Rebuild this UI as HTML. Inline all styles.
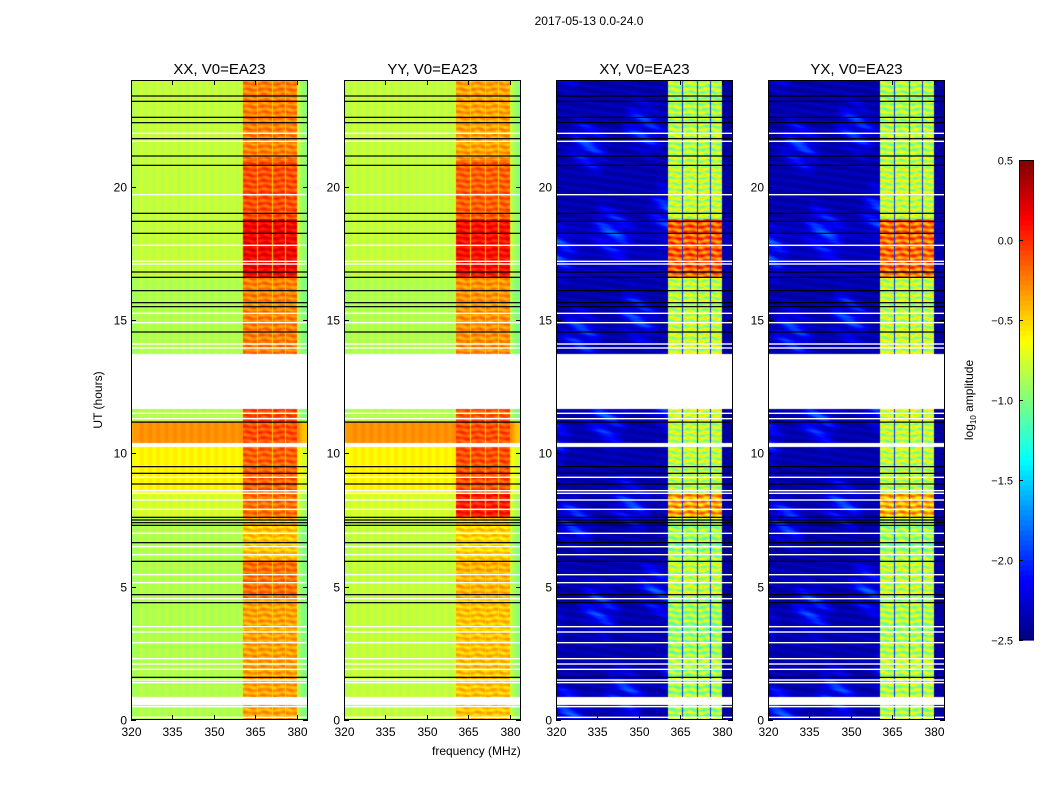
<!DOCTYPE html>
<html><head><meta charset="utf-8">
<style>
body{margin:0;background:#fff;font-family:"Liberation Sans",sans-serif;}
#root{position:relative;width:1050px;height:800px;overflow:hidden;background:#fff;}
.t{position:absolute;white-space:nowrap;color:#000;}
</style></head><body>
<div id="root">
<div class="t" style="left:0;width:1178px;text-align:center;top:14px;font-size:12px;">2017-05-13 0.0-24.0</div>
<div class="t" style="left:432px;top:744px;font-size:12px;">frequency (MHz)</div>
<div class="t" style="left:98px;top:400px;font-size:12px;transform:translate(-50%,-50%) rotate(-90deg);">UT (hours)</div>
<div class="t" style="left:970px;top:400px;font-size:12px;transform:translate(-50%,-50%) rotate(-90deg);">log<sub style="font-size:8px">10</sub> amplitude</div>
<svg id="svg" width="1050" height="800" style="position:absolute;left:0;top:0"></svg>
</div>
<script>
// ---- data (hours / MHz / log10 amplitude) ----
const panelTitles=["XX, V0=EA23","YY, V0=EA23","XY, V0=EA23","YX, V0=EA23"];
const xTicks=[320,335,350,365,380];
const yTicks=[0,5,10,15,20];
const cbTicks=[-2.5,-2.0,-1.5,-1.0,-0.5,0.0,0.5];
const segStart=[0,4.5,6.0,7.6,8.5,10.4,11.2,13.72,16.6,18.8,21.0];
const segEnd  =[4.5,6.0,7.6,8.5,10.4,11.2,11.65,16.6,18.8,21.0,24.0];
const xxBg  =[-0.85,-0.85,-0.85,-0.75,-0.6,-0.3,-0.85,-0.85,-0.8,-0.8,-0.8];
const xxBand=[-0.35,-0.2,-0.45,-0.2,-0.15,-0.1,-0.1,-0.25,0.15,-0.1,-0.25];
const yyBg  =[-0.8,-0.8,-0.8,-0.75,-0.6,-0.3,-0.85,-0.85,-0.8,-0.8,-0.8];
const yyBand=[-0.45,-0.4,-0.5,0.05,-0.1,-0.1,-0.15,-0.3,0.1,-0.15,-0.35];
const xyBg  =[-2.4,-2.4,-2.42,-2.4,-2.4,-2.4,-2.4,-2.4,-2.35,-2.4,-2.4];
const xyBand=[-0.85,-0.75,-0.85,-0.3,-0.75,-0.75,-0.75,-0.75,-0.1,-0.75,-0.8];
const yxBg  =[-2.4,-2.4,-2.42,-2.4,-2.4,-2.4,-2.4,-2.4,-2.35,-2.4,-2.4];
const yxBand=[-0.8,-0.75,-0.85,-0.35,-0.75,-0.75,-0.75,-0.75,-0.15,-0.75,-0.8];
const bandLo=[360.4,366.0,371.4,376.0];
const bandHi=[365.4,370.9,375.6,379.9];
const whiteLines=[22.0,21.7,19.7,17.8,17.2,17.1,15.25,14.9,14.1,13.95,11.5,11.3,9.1,8.6,8.5,8.25,7.9,7.0,6.5,6.2,5.45,5.15,4.55,3.5,3.3,2.9,2.3,2.1,1.9,1.5,1.4,0.5,0.1];
const blackLines=[23.4,23.2,22.6,22.4,21.8,21.15,20.8,19.0,18.7,18.25,16.8,16.6,16.1,15.65,15.5,14.55,11.17,9.5,9.25,8.85,7.3,7.4,7.5,7.6,6.65,5.95,4.7,4.4,1.6];
const gapStart=[11.65,10.25,0.55];
const gapEnd  =[13.72,10.4,0.86];
const vmin=-2.5,vmax=0.5;
// ---- layout ----
const panelX=[131,344,556,768], PW=177, PY=80, PH=640;
const fmin=320,fmax=384,tmin=0,tmax=24;
const xs=(i,f)=>panelX[i]+(f-fmin)/(fmax-fmin)*PW;
const ys=h=>PY+PH-(h-tmin)/(tmax-tmin)*PH;
function jet(v){let x=(v-vmin)/(vmax-vmin);x=Math.max(0,Math.min(1,x));
 const c=t=>Math.max(0,Math.min(1,1.5-Math.abs(t)));
 return [c(4*x-3),c(4*x-2),c(4*x-1)].map(q=>Math.round(q*255));}
const bgArr=[xxBg,yyBg,xyBg,yxBg], bandArr=[xxBand,yyBand,xyBand,yxBand];
function value(p,h,f){
 let s=-1;for(let k=0;k<segStart.length;k++)if(h>=segStart[k]&&h<segEnd[k])s=k;
 if(s<0)return null;
 for(let k=0;k<gapStart.length;k++)if(h>=gapStart[k]&&h<gapEnd[k])return null;
 const cross=p>=2;
 let bg=bgArr[p][s], bd=bandArr[p][s];
 const tex=Math.sin(h*29.3+Math.sin(f*0.9)*0.8)*0.7+0.3*Math.sin(h*11.7+f*1.7);
 if(cross){
  const patch=Math.max(0,Math.sin(h*1.3+f*0.11)*Math.sin(f*0.17-h*0.5));
  bg+=0.5*patch*(0.6+0.4*Math.sin(h*9+f*0.5))+0.12*Math.max(0,Math.sin(h*21+f*0.3));
  if(f>380)bg=bgArr[p][s];
 } else { if(f<322)bg-=0.12*(322-f)/2; if(f>380)bg-=0.2*(f-380)/4; bg+=0.03*Math.sin(f*2.1);}
 let inBand=false;for(let k=0;k<4;k++)if(f>=bandLo[k]&&f<=bandHi[k])inBand=true;
 if(inBand)return bd+(cross?0.3*tex-0.05:0.15*tex);
 if(f>bandLo[0]&&f<bandHi[3])return cross?-2.0:-0.5;
 return bg;
}
const NS="http://www.w3.org/2000/svg";
const svg=document.getElementById('svg');
function mk(tag,attrs,parent){const e=document.createElementNS(NS,tag);for(const k in attrs)e.setAttribute(k,attrs[k]);(parent||svg).appendChild(e);return e;}
for(let p=0;p<4;p++){
 const g=mk('g',{});
 
 
 const fo=mk('foreignObject',{x:panelX[p],y:PY,width:PW,height:PH},g);
 const cv=document.createElement('canvas');cv.width=PW;cv.height=PH;
 
 
 fo.appendChild(cv);
 const ctx=cv.getContext('2d');const im=ctx.createImageData(PW,PH);
 for(let y=0;y<PH;y++){const h=tmax-(y+0.5)/PH*(tmax-tmin);
  for(let x=0;x<PW;x++){const f=fmin+(x+0.5)/PW*(fmax-fmin);
   const v=value(p,h,f);const o=(y*PW+x)*4;
   if(v===null){im.data[o]=im.data[o+1]=im.data[o+2]=255;}
   else{const c=jet(v);im.data[o]=c[0];im.data[o+1]=c[1];im.data[o+2]=c[2];}
   im.data[o+3]=255;}}
 ctx.putImageData(im,0,0);
 for(const h of whiteLines){const l=mk('rect',{x:panelX[p],y:ys(h)-0.7,width:PW,height:1.4,fill:'#fff'},g);
  
  }
 for(const h of blackLines){const l=mk('rect',{x:panelX[p],y:ys(h)-0.6,width:PW,height:1.2,fill:'#000'},g);
  
  }
 const fr=mk('rect',{x:panelX[p]+0.5,y:PY+0.5,width:PW-1,height:PH-1,fill:'none',stroke:'#000','stroke-width':1},g);
 
 
 const tt=mk('text',{x:panelX[p]+PW/2,y:74,'text-anchor':'middle','font-size':15,'font-family':'Liberation Sans'},g);
 tt.textContent=panelTitles[p];
 
 
 for(const f of xTicks){const x=Math.round(xs(p,f))+0.5;
  mk('line',{x1:x,x2:x,y1:PY+PH,y2:PY+PH-5,stroke:'#000'},g);
  mk('line',{x1:x,x2:x,y1:PY,y2:PY+5,stroke:'#000'},g);
  const t=mk('text',{x:x,y:PY+PH+16,'text-anchor':'middle','font-size':12,'font-family':'Liberation Sans'},g);
  t.textContent=f;
  
  }
 for(const h of yTicks){const y=Math.round(ys(h))+0.5;
  mk('line',{x1:panelX[p],x2:panelX[p]+5,y1:y,y2:y,stroke:'#000'},g);
  mk('line',{x1:panelX[p]+PW,x2:panelX[p]+PW-5,y1:y,y2:y,stroke:'#000'},g);
  const t=mk('text',{x:panelX[p]-4,y:y+4,'text-anchor':'end','font-size':12,'font-family':'Liberation Sans'},g);
  t.textContent=h;
  
  }
}
// colorbar
const CX=1019,CW=15,CY=160,CH=480;
const cg=mk('g',{});


const N=96;
for(let i=0;i<N;i++){const v=vmin+(i+0.5)/N*(vmax-vmin);const c=jet(v);
 mk('rect',{x:CX,y:CY+CH-(i+1)*CH/N,width:CW,height:CH/N+0.6,fill:`rgb(${c})`},cg);}
mk('rect',{x:CX+0.5,y:CY+0.5,width:CW-1,height:CH-1,fill:'none',stroke:'#000'},cg);
for(const v of cbTicks){const y=Math.round(CY+CH-(v-vmin)/(vmax-vmin)*CH)+0.5;
 mk('line',{x1:CX,x2:CX+4,y1:y,y2:y,stroke:'#000'},cg);
 const t=mk('text',{x:1013,y:y+4,'text-anchor':'end','font-size':11,'font-family':'Liberation Sans'},cg);
 t.textContent=(v<0?'\u2212':'')+Math.abs(v).toFixed(1);
 
 }
</script>
</body></html>
